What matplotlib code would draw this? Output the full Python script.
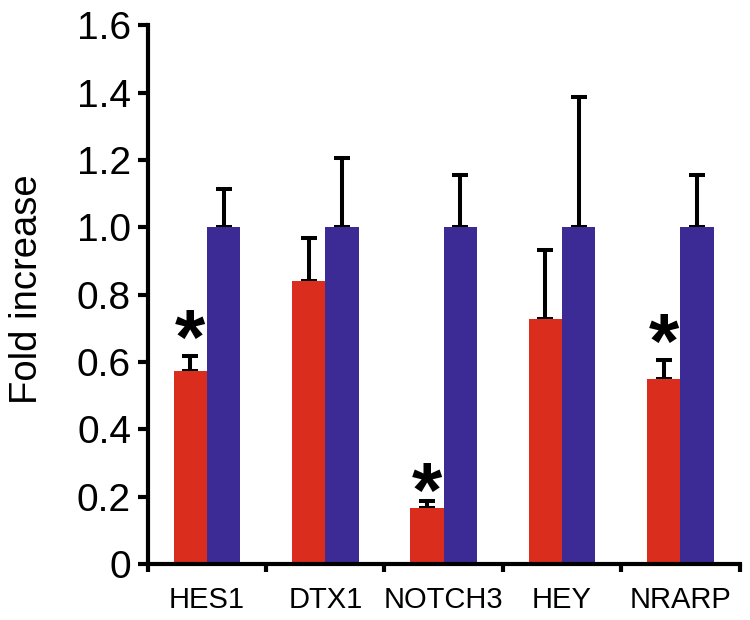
import matplotlib
matplotlib.use("Agg")
import matplotlib.pyplot as plt
import numpy as np

categories = ["HES1", "DTX1", "NOTCH3", "HEY", "NRARP"]
red_vals = [0.574, 0.840, 0.166, 0.728, 0.548]
red_err = [0.045, 0.127, 0.020, 0.205, 0.058]
blue_vals = [1.0, 1.0, 1.0, 1.0, 1.0]
blue_err = [0.113, 0.207, 0.155, 0.388, 0.155]
star_y = [0.702, None, 0.248, None, 0.690]

plt.rcParams['font.family'] = ['Liberation Sans', 'DejaVu Sans']

fig = plt.figure(figsize=(7.5, 6.2), dpi=100)
ax_left, ax_bot, ax_w, ax_h = 0.197, 0.0903, 0.789, 0.869
ax = fig.add_axes([ax_left, ax_bot, ax_w, ax_h])

x = np.arange(len(categories))
w = 0.282
red_c = "#DB2D1E"
blue_c = "#3C2B95"
ax.bar(x - w/2, red_vals, w, color=red_c, zorder=2)
ax.bar(x + w/2, blue_vals, w, color=blue_c, zorder=2)
ax.errorbar(x - w/2, red_vals, yerr=[np.zeros(len(x)), red_err], fmt='none',
            ecolor='black', elinewidth=2.9, capsize=5.5, capthick=2.9, zorder=1)
ax.errorbar(x + w/2, blue_vals, yerr=[np.zeros(len(x)), blue_err], fmt='none',
            ecolor='black', elinewidth=2.9, capsize=5.5, capthick=2.9, zorder=1)

fs_star = 56
px_per_unit = ax_h * 620 / 1.6
off = 0.47 * fs_star / 72 * 100 / px_per_unit
for i, s in enumerate(star_y):
    if s is not None:
        ax.text(x[i] - w/2, s - off, "*", ha='center', va='baseline',
                fontsize=fs_star, fontweight='bold', color='black')

ax.set_xlim(-0.5, len(categories) - 0.5)
ax.set_ylim(0, 1.6)
ax.set_yticks(np.arange(0, 1.61, 0.2))
ax.set_yticklabels(["0"] + [f"{v:.1f}" for v in np.arange(0.2, 1.61, 0.2)])
ax.set_xticks(x)
ax.set_xticklabels(categories)
ax.set_xticks(np.arange(-0.5, len(categories)), minor=True)
ax.tick_params(axis='x', which='major', length=0, labelsize=21, pad=16)
ax.tick_params(axis='x', which='minor', length=6, width=3, direction='out')
ax.tick_params(axis='y', length=7, width=3, labelsize=28, pad=5)
ax.set_ylabel("Fold increase", fontsize=27.5)
ax.yaxis.set_label_coords(-0.174, 0.510)

for sp in ['top', 'right']:
    ax.spines[sp].set_visible(False)
for sp in ['left', 'bottom']:
    ax.spines[sp].set_linewidth(3)

fig.savefig("out.png", dpi=100)
